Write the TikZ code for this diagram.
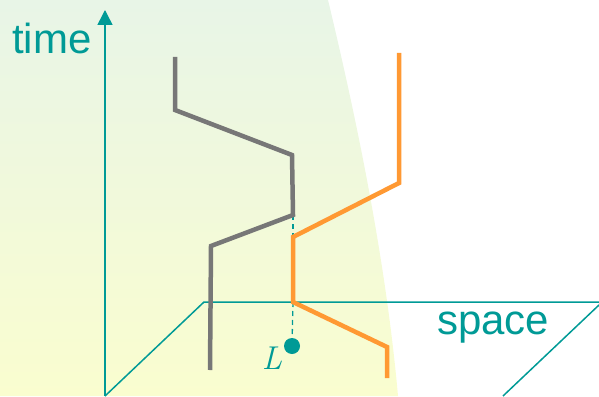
\documentclass[tikz,border=0pt]{standalone}
\usepackage{fontspec}
\setmainfont{Liberation Sans}
\usetikzlibrary{arrows.meta}
\definecolor{tealc}{HTML}{009A96}
\definecolor{grayline}{HTML}{777777}
\definecolor{orangeline}{HTML}{FF9933}
\definecolor{bgtop}{HTML}{E8F5E7}
\definecolor{bgmid}{HTML}{F1F9DC}
\definecolor{bgbot}{HTML}{FAFDCF}
\tikzset{
  axis/.style={draw=tealc, line width=1.5pt},
  worldgray/.style={draw=grayline, line width=4.5pt, line join=miter},
  worldorange/.style={draw=orangeline, line width=4.5pt, line join=miter},
  linkdash/.style={draw=tealc, line width=1.3pt, dash pattern=on 5pt off 4pt},
  lbl/.style={text=tealc, font=\fontsize{42}{42}\selectfont, inner sep=0pt},
}
\begin{document}
\begin{tikzpicture}[x=1pt,y=-1pt]
\useasboundingbox (0,0) rectangle (599,396);
% background
\shade[top color=bgtop, middle color=bgmid, bottom color=bgbot]
  (0,0) -- (328,0) .. controls (352,100) and (385,250) .. (398,396) -- (0,396) -- cycle;
% space plane
\coordinate (p1) at (105,396);
\coordinate (p2) at (204,302);
\coordinate (p3) at (599,302);
\coordinate (p4) at (503,396);
\coordinate (p5) at (599,305);
\draw[axis] (p1) -- (p2) -- (p3);
\draw[axis] (p4) -- (p5);
% time axis
\coordinate (t0) at (105,396);
\coordinate (t1) at (105,10);
\draw[axis, -{Triangle[length=15pt,width=15pt]}] (t0) -- (t1);
% labels
\node[lbl, anchor=base west] (time) at (12,53) {time};
\node[lbl, anchor=base west] (space) at (437,334) {space};
% gray worldline
\coordinate (g1) at (175,57);
\coordinate (g2) at (175,110);
\coordinate (g3) at (292,155);
\coordinate (g4) at (293,215);
\coordinate (g5) at (211,246);
\coordinate (g6) at (210,370);
% orange worldline
\coordinate (o1) at (399,53);
\coordinate (o2) at (399,183);
\coordinate (o3) at (293,237);
\coordinate (o4) at (293,302);
\coordinate (o5) at (387,347);
\coordinate (o6) at (387,378);
% dashed links
\node[circle, fill=tealc, minimum size=16pt, inner sep=0pt] (L) at (292,346) {};
\draw[linkdash] (g4) -- (o3);
\draw[linkdash] (o4) -- (L);
\draw[worldgray] (g1) -- (g2) -- (g3) -- (g4) -- (g5) -- (g6);
\draw[worldorange] (o1) -- (o2) -- (o3) -- (o4) -- (o5) -- (o6);
\node[text=tealc, font=\fontspec{Latin Modern Roman}\itshape\fontsize{33}{33}\selectfont, inner sep=0pt, anchor=base] (Llabel) at (272,369) {L};
\end{tikzpicture}
\end{document}
